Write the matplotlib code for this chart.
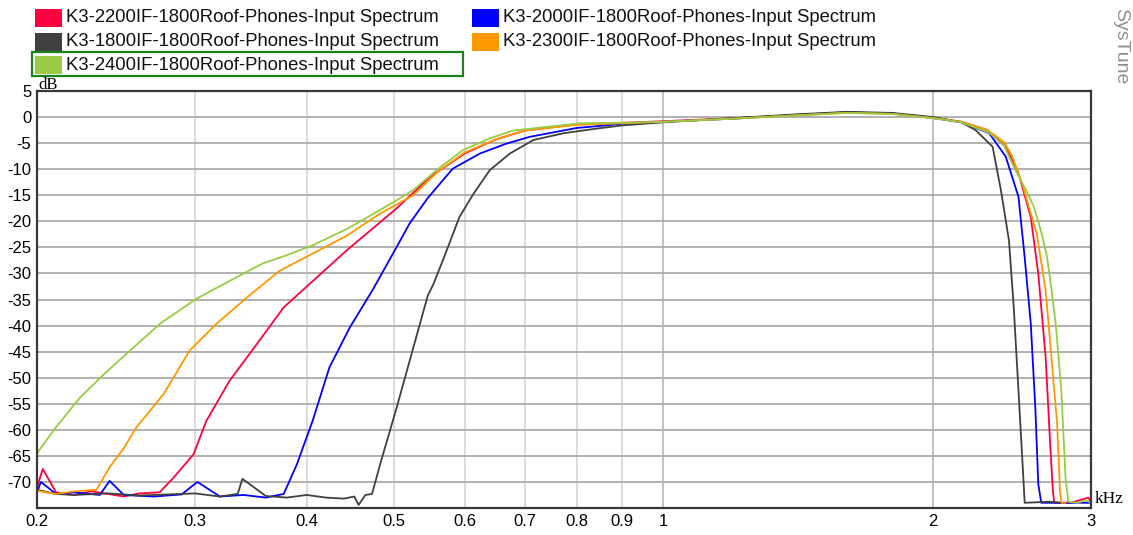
import matplotlib
matplotlib.use('Agg')
import matplotlib.pyplot as plt
from matplotlib.patches import Rectangle
import numpy as np

W, H = 1133, 535

labels = ['K3-2200IF-1800Roof-Phones-Input Spectrum',
          'K3-2000IF-1800Roof-Phones-Input Spectrum',
          'K3-1800IF-1800Roof-Phones-Input Spectrum',
          'K3-2300IF-1800Roof-Phones-Input Spectrum',
          'K3-2400IF-1800Roof-Phones-Input Spectrum']
colors = ['#ff0040', '#0000ff', '#404040', '#ff9900', '#99cc44']

# frequencies in kHz, levels in dB
f_2200 = [0.2, 0.203, 0.21, 0.22, 0.23, 0.24, 0.25, 0.26, 0.274, 0.284, 0.299, 0.309, 0.328, 0.352,
          0.377, 0.406, 0.443, 0.504, 0.549, 0.6, 0.65, 0.7, 0.8, 0.9, 1.0, 1.2, 1.4, 1.6, 1.8, 2.0,
          2.15, 2.3, 2.41, 2.49, 2.57, 2.62, 2.67, 2.7, 2.72, 2.73, 2.85, 2.98, 3.0]
db_2200 = [-71, -67.5, -72, -72.5, -71.8, -72.3, -72.8, -72.2, -72, -69.2, -64.7, -58.3, -50.6, -43.5,
           -36.5, -31.5, -25.6, -17.5, -11.5, -7, -4.3, -2.6, -1.4, -1.1, -0.8, -0.2, 0.4, 0.9, 0.7, -0.1,
           -0.9, -2.5, -5.7, -10.8, -19.2, -30.1, -46.1, -62.1, -71.7, -74, -74, -73, -74]

f_2000 = [0.2, 0.202, 0.21, 0.22, 0.235, 0.241, 0.25, 0.27, 0.29, 0.302, 0.32, 0.34, 0.36, 0.377,
          0.39, 0.406, 0.424, 0.447, 0.474, 0.504, 0.521, 0.546, 0.582, 0.624, 0.668, 0.709, 0.8, 0.9,
          1.0, 1.2, 1.4, 1.6, 1.8, 2.0, 2.15, 2.31, 2.41, 2.49, 2.53, 2.57, 2.6, 2.62, 2.64, 2.8, 3.0]
db_2000 = [-72, -70, -72.3, -72, -72.5, -69.8, -72.5, -72.8, -72.4, -70, -72.8, -72.5, -73, -72.3,
           -66.6, -58.3, -48, -40.3, -33.1, -24.9, -20.4, -15.5, -9.9, -7, -5.1, -3.8, -2.1, -1.3,
           -0.9, -0.3, 0.4, 0.9, 0.7, -0.2, -1.0, -3.1, -7.6, -15.3, -26.9, -39.7, -55.7, -70.4, -74, -74, -74]

f_1800 = [0.2, 0.21, 0.22, 0.24, 0.26, 0.28, 0.3, 0.32, 0.335, 0.339, 0.36, 0.38, 0.4, 0.42, 0.44,
          0.452, 0.457, 0.465, 0.473, 0.483, 0.504, 0.526, 0.546, 0.554, 0.573, 0.592, 0.614, 0.64,
          0.674, 0.716, 0.774, 0.843, 0.9, 1.0, 1.2, 1.4, 1.6, 1.8, 2.0, 2.15, 2.23, 2.33, 2.38, 2.43,
          2.46, 2.49, 2.52, 2.53, 2.7, 2.78]
db_1800 = [-71.5, -72.3, -72.5, -72.2, -72.6, -72.4, -72.2, -72.8, -72.3, -69.4, -72.7, -73, -72.5, -73,
           -73.2, -72.8, -74.4, -72.5, -72.3, -66.6, -55.7, -44.2, -34.2, -32, -25.6, -19.2, -14.7, -10.2,
           -7.0, -4.4, -3.1, -2.2, -1.6, -1.0, -0.2, 0.5, 1.0, 0.8, 0.0, -1.0, -2.5, -5.7, -14, -23.7,
           -36.5, -52.5, -68.5, -74, -73.8, -74]

f_2300 = [0.2, 0.21, 0.22, 0.233, 0.241, 0.25, 0.258, 0.277, 0.296, 0.317, 0.343, 0.373, 0.406, 0.424,
          0.443, 0.483, 0.526, 0.56, 0.6, 0.65, 0.7, 0.8, 0.9, 1.0, 1.2, 1.4, 1.6, 1.8, 2.0, 2.15, 2.3,
          2.4, 2.45, 2.52, 2.56, 2.61, 2.67, 2.71, 2.75, 2.77, 2.78, 2.81]
db_2300 = [-71.7, -72.3, -71.8, -71.5, -67.2, -63.5, -59.6, -53.1, -44.8, -39.7, -34.6, -29.5, -26.2, -24.5,
           -22.8, -18.5, -15.0, -10.5, -6.8, -4.3, -2.6, -1.5, -1.2, -0.9, -0.3, 0.3, 0.8, 0.6, -0.2, -0.9,
           -2.5, -4.8, -7.5, -13.4, -17.5, -22.4, -33.3, -46.1, -58.9, -71.7, -74, -74]

f_2400 = [0.2, 0.21, 0.2234, 0.238, 0.254, 0.275, 0.301, 0.33, 0.357, 0.38, 0.406, 0.443, 0.47, 0.5,
          0.526, 0.56, 0.598, 0.64, 0.679, 0.73, 0.807, 0.9, 1.0, 1.2, 1.4, 1.6, 1.8, 2.0, 2.15, 2.31,
          2.4, 2.47, 2.53, 2.59, 2.64, 2.68, 2.71, 2.74, 2.76, 2.78, 2.795, 2.81, 2.83, 2.9, 2.96, 3.0]
db_2400 = [-64.5, -59.5, -53.8, -49.2, -44.8, -39.5, -34.9, -31.2, -28.1, -26.5, -24.6, -21.5, -19.0, -16.3,
           -14.0, -10.0, -6.3, -4.1, -2.6, -2.0, -1.2, -1.1, -0.9, -0.3, 0.3, 0.8, 0.6, -0.2, -1.0, -3.0,
           -5.5, -10.2, -13.5, -17.2, -22, -26.9, -33, -39.7, -46, -52.5, -61, -69.2, -73.8, -74, -73.5, -74]

freqs = [f_2200, f_2000, f_1800, f_2300, f_2400]
levels = [db_2200, db_2000, db_1800, db_2300, db_2400]

xticks = [0.2, 0.3, 0.4, 0.5, 0.6, 0.7, 0.8, 0.9, 1, 2, 3]
xticklabels = ['0.2', '0.3', '0.4', '0.5', '0.6', '0.7', '0.8', '0.9', '1', '2', '3']
yticks = list(range(5, -75, -5))

fig = plt.figure(figsize=(W / 100, H / 100), dpi=100)
ax = fig.add_axes([37 / W, 1 - 508 / H, 1054 / W, 417 / H])

for f, d, c in zip(freqs, levels, colors):
    ax.plot(f, d, color=c, lw=1.3)

ax.set_xscale('log')
ax.set_xlim(0.2, 3)
ax.set_ylim(-75, 5)
ax.set_xticks(xticks)
ax.set_xticklabels(xticklabels)
ax.xaxis.set_minor_locator(matplotlib.ticker.NullLocator())
ax.set_yticks(yticks)
ax.set_yticklabels([str(v) for v in yticks])
ax.tick_params(length=0, labelsize=12, pad=4)
for lab in ax.get_xticklabels() + ax.get_yticklabels():
    lab.set_family('Liberation Sans')

for v in xticks[1:-1]:
    ax.axvline(v, color='#b8b8b8' if v in (1, 2) else '#d4d4d4', lw=1.2, zorder=0)
for v in yticks[1:]:
    ax.axhline(v, color='#b0b0b0', lw=1.4, zorder=0)
for s in ax.spines.values():
    s.set_color('#383838')
    s.set_linewidth(1.6)

# pixel helpers for the figure-level decorations
def fx(x):
    return x / W

def fy(y):
    return 1 - y / H

rows = [18, 42, 65]
cols = [35, 472]
order = [(0, 0), (0, 1), (1, 0), (1, 1), (2, 0)]
for (r, c), lab, col in zip(order, labels, colors):
    fig.patches.append(Rectangle((fx(cols[c]), fy(rows[r] + 9)), 27 / W, 18 / H,
                                 transform=fig.transFigure, facecolor=col, edgecolor='none'))
    fig.text(fx(cols[c] + 31), fy(rows[r]), lab, fontsize=13.3, family='Liberation Sans',
             va='center', ha='left', color='#111111')

fig.patches.append(Rectangle((fx(32), fy(76)), 431 / W, 24 / H, transform=fig.transFigure,
                             facecolor='none', edgecolor='#1a801a', lw=1.6))

fig.text(fx(38), fy(89), 'dB', fontsize=12, family='Liberation Serif', va='baseline', ha='left')
fig.text(fx(1095), fy(499), 'kHz', fontsize=12.5, family='Liberation Serif', va='center', ha='left')
fig.text(fx(1121), fy(46), 'SysTune', fontsize=14, family='Liberation Sans', color='#909090',
         rotation=-90, va='center', ha='center')

fig.savefig('out.png', dpi=100)
